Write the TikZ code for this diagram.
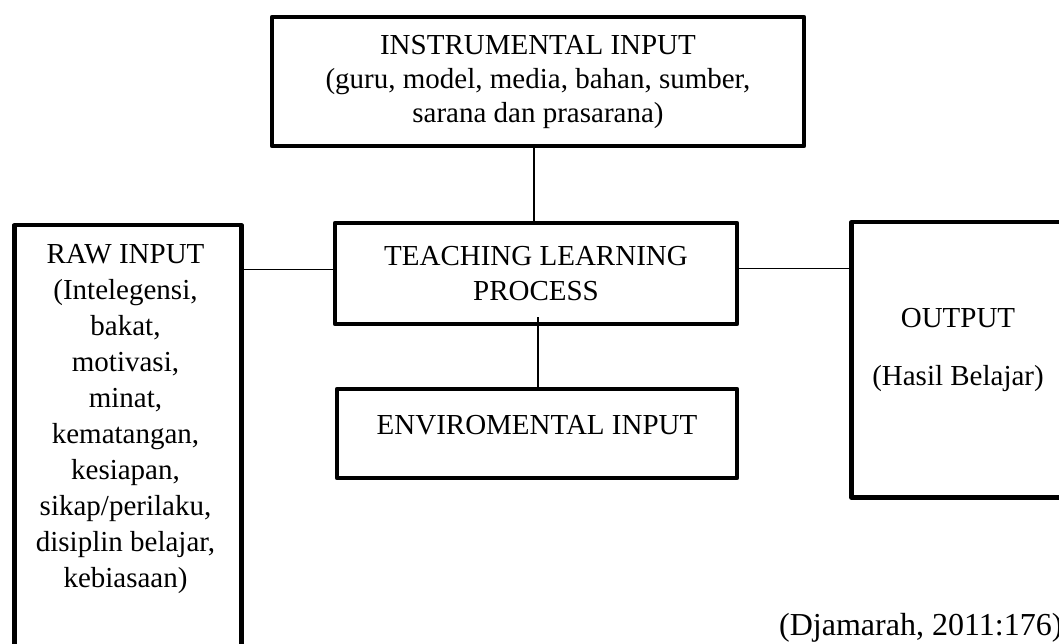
\documentclass[tikz,border=0pt]{standalone}
\usepackage{fontspec}
\setmainfont{Liberation Serif}
\usepackage{tikz}
\tikzset{fig/.style={line join=round,x=1pt,y=-1pt},
  blok/.style={draw,line width=4.5pt,inner sep=0pt,align=center,font=\fontsize{29}{35}\selectfont},
  txt/.style={inner sep=0pt,align=center,font=\fontsize{29}{36}\selectfont},
  conn/.style={line width=1.3pt}}

\begin{document}
\begin{tikzpicture}[fig]
  \useasboundingbox(0,0)rectangle(1059,644);
  \clip(0,0)rectangle(1059,644);
  % centre and the inputs round it
  \node[blok,minimum width=532pt,minimum height=129pt,font=\fontsize{29}{34}\selectfont](instr)at(538,81.5){INSTRUMENTAL INPUT\\(guru, model, media, bahan, sumber,\\sarana dan prasarana)};
  \node[blok,minimum width=402pt,minimum height=101pt](teach)at(536,273.5){TEACHING LEARNING\\PROCESS};
  \node[blok,minimum width=400pt,minimum height=89pt,text depth=18pt](env)at(537,433.5){ENVIROMENTAL INPUT};
  % raw input -- runs off the bottom edge
  \node[blok,anchor=north west,minimum width=227pt,minimum height=480pt](raw)at(12,223){};
  \node[txt,anchor=north](rawtxt)at(125.5,244){RAW INPUT\\(Intelegensi,\\bakat,\\motivasi,\\minat,\\kematangan,\\kesiapan,\\sikap/perilaku,\\disiplin belajar,\\kebiasaan)};
  % output -- runs off the right edge
  \node[blok,anchor=north west,minimum width=218pt,minimum height=275pt](out)at(849,220){};
  \node[txt,anchor=north](outtxt)at(958,308){OUTPUT\\[22pt](Hasil Belajar)};
  % connectors
  \coordinate(t1)at([xshift=-4pt]instr.south);
  \draw[conn](t1)--(t1|-teach.north);
  \coordinate(l1)at([yshift=4pt]teach.west);
  \draw[conn](l1)--(l1-|raw.east);
  \coordinate(r1)at([yshift=5pt]teach.east);
  \draw[conn](r1)--(r1-|out.west);
  \coordinate(e1)at([xshift=2pt,yshift=9pt]teach.south);
  \draw[conn](e1)--(e1|-env.north);
  \node[txt,anchor=base west,font=\fontsize{32}{36}\selectfont](cite)at(779,635){(Djamarah, 2011:176)};
\end{tikzpicture}
\end{document}
